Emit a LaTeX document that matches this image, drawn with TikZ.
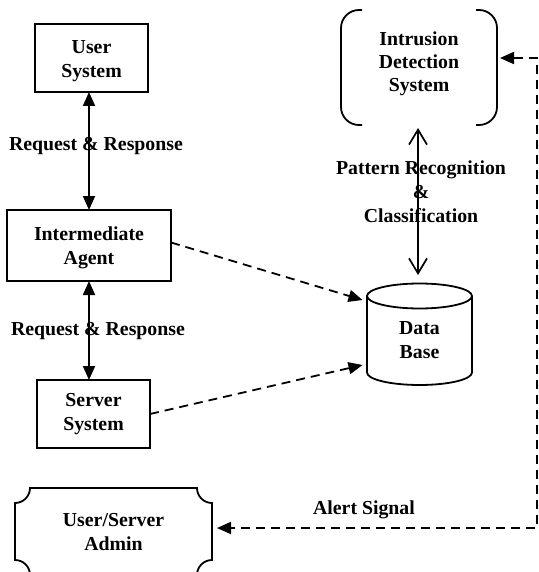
\documentclass[tikz,border=0pt]{standalone}
\usepackage{fontspec}
\setmainfont{Liberation Serif}
\usetikzlibrary{arrows.meta,calc}
\begin{document}
\begin{tikzpicture}[x=1pt,y=-1pt,
  every node/.style={font=\fontsize{19.8}{24}\selectfont\bfseries, align=center, inner sep=0pt, outer sep=0pt},
  blk/.style={draw, line width=1.8pt, rectangle},
  shp/.style={line width=1.8pt},
  solidarr/.style={line width=1.8pt, {Triangle[length=14pt,width=12pt]}-{Triangle[length=14pt,width=12pt]}},
  openarr/.style={line width=1.7pt, {Straight Barb[length=15pt,width=18pt]}-{Straight Barb[length=15pt,width=18pt]}},
  dasharr/.style={line width=1.8pt, dash pattern=on 9pt off 6pt, -{Triangle[length=14pt,width=12pt]}},
  alertarr/.style={line width=1.8pt, dash pattern=on 9pt off 6pt, {Triangle[length=14pt,width=12pt]}-{Triangle[length=14pt,width=12pt]}}
]
\clip (0,0) rectangle (538,572);
\fill[white] (0,0) rectangle (538,572);

% left column
\node[blk, minimum width=113pt, minimum height=68pt] (us) at (91.5,58) {};
\node (ust) at (91.5,61) {User\\System};
\node[blk, minimum width=164pt, minimum height=71pt] (ia) at (89,245.5) {};
\node (iat) at (89,247.5) {Intermediate\\Agent};
\node[blk, minimum width=113pt, minimum height=68pt] (ss) at (93.5,414) {};
\node (sst) at (93.5,414.5) {Server\\System};
\node (rr1) at (96,146) {Request \& Response};
\node (rr2) at (98,331) {Request \& Response};
\draw[solidarr] (ia.north) -- (ia.north |- us.south);
\draw[solidarr] (ia.south) -- (ia.south |- ss.north);

% intrusion detection system
\node[minimum width=156pt, minimum height=115pt] (ids) at (419,67.5) {};
\node[font=\fontsize{19.8}{23}\selectfont\bfseries] (idst) at (419,64) {Intrusion\\Detection\\System};
\draw[shp, rounded corners=18pt] ($(ids.north west)+(21,0)$) -- (ids.north west) -- (ids.south west) -- ($(ids.south west)+(21,0)$);
\draw[shp, rounded corners=18pt] ($(ids.north east)+(-21,0)$) -- (ids.north east) -- (ids.south east) -- ($(ids.south east)+(-21,0)$);

% data base
\node[minimum width=105pt, minimum height=50pt] (db) at (419.5,340) {Data\\Base};
\draw[shp] ($(db.center)+(0,-44)$) ellipse[x radius=52.5, y radius=12.5];
\draw[shp] ($(db.center)+(-52.5,-44)$) -- ($(db.center)+(-52.5,32.5)$)
  arc[start angle=180, end angle=0, x radius=52.5, y radius=12.5] -- ($(db.center)+(52.5,-44)$);

\node (pr) at (421,192) {Pattern Recognition\\\&\\Classification};
\draw[openarr] ($(ids.south)+(-1,3)$) -- ($(db.center)+(-1.5,-65)$);

\draw[dasharr] ($(ia.east)+(0,-3)$) -- ($(db.center)+(-57,-40)$);
\draw[dasharr] (ss.east) -- ($(db.center)+(-57,25)$);

% admin
\node[minimum width=197pt, minimum height=80pt] (admin) at (113.5,528) {};
\node (admt) at (113.5,532) {User/Server\\Admin};
\draw[shp] ($(admin.center)+(-83.5,-40)$) -- ($(admin.center)+(83.5,-40)$)
  arc[start angle=180, end angle=90, radius=15] -- ($(admin.center)+(98.5,32)$)
  arc[start angle=270, end angle=180, radius=15] -- ($(admin.center)+(-83.5,47)$)
  arc[start angle=0, end angle=-90, radius=15] -- ($(admin.center)+(-98.5,-25)$)
  arc[start angle=90, end angle=0, radius=15] -- cycle;

\coordinate (cr) at (537,58);
\node (al) at (364,510) {Alert Signal};
\draw[alertarr] ($(ids.north east)+(3,48)$) -- (cr) |- ($(admin.east)+(5,0)$);
\end{tikzpicture}
\end{document}
